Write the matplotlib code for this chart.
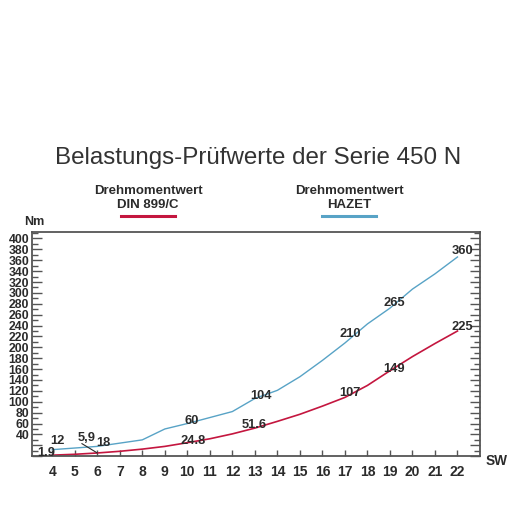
import matplotlib
matplotlib.use("Agg")
import matplotlib.pyplot as plt
from matplotlib.ticker import MultipleLocator, FixedLocator

plt.rcParams['font.family'] = ['Liberation Sans', 'DejaVu Sans']

sw = [4, 5, 6, 7, 8, 9, 10, 11, 12, 13, 14, 15, 16, 17, 18, 19, 20, 21, 22]
hazet = [12, 15, 18, 24, 30, 50, 60, 71, 82, 106, 121, 146, 176, 208, 243, 272, 307, 335, 366]
din = [1.9, 3.5, 5.9, 9, 13, 18, 24.8, 32, 41, 51.6, 64, 77, 92, 108, 130, 157, 183, 207, 230]

hazet_labels = [(4, "12"), (6, "18"), (10, "60"), (13, "104"), (17, "210"), (19, "265"), (22, "360")]
din_labels = [(4, "1.9"), (6, "5,9"), (10, "24.8"), (13, "51.6"), (17, "107"), (19, "149"), (22, "225")]

y_tick_labels = list(range(40, 401, 20))

RED = "#c4163f"
BLUE = "#58a3c6"
TXT = "#2b2b2b"
AX = "#555555"

fig = plt.figure(figsize=(5.12, 5.12), dpi=100)
ax = fig.add_axes([0.0625, 0.109, 0.875, 0.438])

ax.plot(sw, hazet, color=BLUE, lw=1.0)
ax.plot(sw, din, color=RED, lw=1.2)

ax.set_xlim(3.1, 23.0)
ax.set_ylim(0, 412)

for s in ax.spines.values():
    s.set_color(AX)
    s.set_linewidth(1.3)

ax.xaxis.set_major_locator(FixedLocator(sw))
ax.set_xticklabels([str(v) for v in sw])
ax.yaxis.set_minor_locator(MultipleLocator(10))
yt = list(range(0, 401, 20))
ax.set_yticks(yt)
ax.set_yticklabels([str(v) if v in y_tick_labels else "" for v in yt])
ax.tick_params(axis='y', which='major', direction='in', length=7, width=1, color=AX,
               labelsize=8.8, pad=2, left=True, right=True)
ax.tick_params(axis='y', which='minor', direction='in', length=4, width=1, color=AX,
               left=True, right=True)
ax.tick_params(axis='x', which='major', direction='in', length=4, width=1, color=AX,
               labelsize=10, pad=6, top=False)
for lab in ax.get_yticklabels():
    lab.set_fontweight('bold')
    lab.set_color(TXT)
for lab in ax.get_xticklabels():
    lab.set_fontweight('bold')
    lab.set_color(TXT)

# point labels
hpos = {4: (4.22, 27), 6: (6.27, 25), 10: (10.18, 64), 13: (13.25, 110),
        17: (17.24, 225), 19: (19.2, 281), 22: (22.2, 377)}
dpos = {4: (3.72, 5), 6: (5.55, 33), 10: (10.27, 27), 13: (12.95, 58),
        17: (17.24, 116), 19: (19.2, 160), 22: (22.2, 237)}
for x, t in hazet_labels:
    px, py = hpos[x]
    ax.text(px, py, t, ha='center', va='center', fontsize=9.3, fontweight='bold', color=TXT)
for x, t in din_labels:
    px, py = dpos[x]
    ax.text(px, py, t, ha='center', va='center', fontsize=9.3, fontweight='bold', color=TXT)
# leader line for 5,9
ax.plot([5.32, 6.0], [23, 5.9], color=TXT, lw=0.8)

ax.text(23.25, -8, "SW", ha='left', va='center', fontsize=9.8, fontweight='bold',
        color=TXT, clip_on=False)
ax.text(3.2, 430, "Nm", ha='center', va='center', fontsize=9, fontweight='bold',
        color=TXT, clip_on=False)

# title
fig.text(0.504, 1 - 158 / 512, "Belastungs-Prüfwerte der Serie 450 N", ha='center', va='center',
         fontsize=17.4, color="#333333")

# legend
fig.text(148 / 512, 1 - 198 / 512, "Drehmomentwert\nDIN 899/C", ha='center', va='center',
         fontsize=9.5, fontweight='bold', color=TXT, linespacing=1.15)
fig.text(349 / 512, 1 - 198 / 512, "Drehmomentwert\nHAZET", ha='center', va='center',
         fontsize=9.5, fontweight='bold', color=TXT, linespacing=1.15)
fig.add_artist(plt.Line2D([121 / 512, 175 / 512], [1 - 216 / 512] * 2, color=RED, lw=2.2))
fig.add_artist(plt.Line2D([322 / 512, 376 / 512], [1 - 216 / 512] * 2, color=BLUE, lw=2.2))

fig.savefig("out.png", dpi=100)
